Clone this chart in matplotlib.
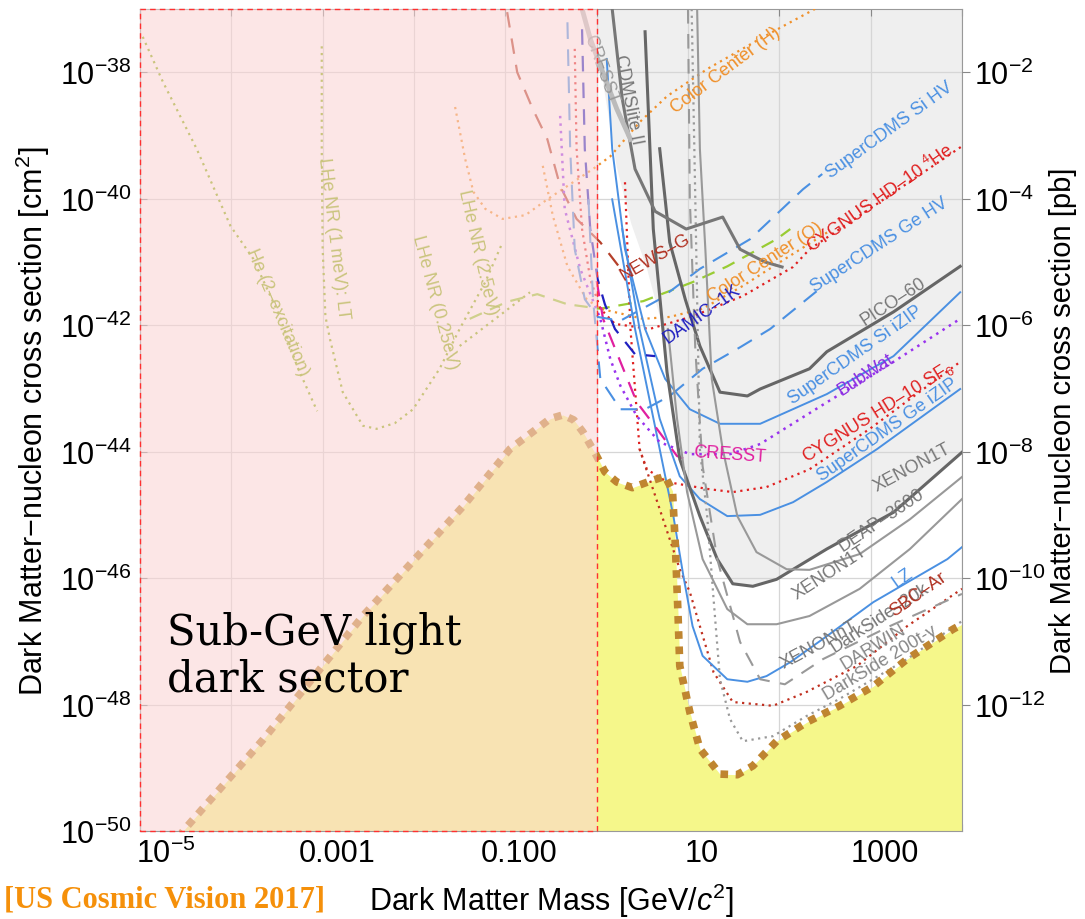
import matplotlib
matplotlib.use("Agg")
import matplotlib.pyplot as plt
import matplotlib.transforms as mtransforms
from matplotlib.ticker import FixedLocator, FixedFormatter, NullLocator
import numpy as np

plt.rcParams['font.family'] = ['Liberation Sans', 'DejaVu Sans']
plt.rcParams['mathtext.fontset'] = 'custom'
plt.rcParams['mathtext.rm'] = 'Liberation Sans'
plt.rcParams['mathtext.it'] = 'Liberation Sans:italic'

# all curves: log10(mass / GeV), log10(sigma / cm^2)
floor_m = [-4.58, -4.51, -3.65, -2.56, -1.46, -0.95, -0.51, -0.37, -0.25, -0.15, 0.0, 0.09, 0.22, 0.39,
           0.56, 0.75, 0.83, 0.86, 0.89, 0.91, 1.02, 1.13, 1.35, 1.54, 1.71, 1.97, 2.30, 2.66, 3.03, 3.40, 3.90, 4.0]
floor_s = [-50.1, -49.97, -48.55, -46.6, -44.86, -43.96, -43.48, -43.42, -43.50, -43.69, -44.07, -44.32, -44.48, -44.57,
           -44.48, -44.39, -44.62, -45.43, -46.54, -47.39, -48.12, -48.70, -49.10, -49.11, -48.97, -48.58, -48.28, -48.02, -47.71, -47.28, -46.81, -46.73]

excl_m = [0.0, 0.04, 0.12, 0.22, 0.38, 0.55, 0.66, 0.74, 0.77, 0.91, 1.13, 1.32, 1.49, 1.71, 1.97, 2.52, 3.25, 4.0, 4.0]
excl_s = [-37.0, -37.9, -38.6, -39.5, -40.4, -41.1, -41.7, -42.1, -42.74, -44.12, -45.02, -45.70, -46.09, -46.13, -46.02, -45.54, -44.96, -44.01, -37.0]

he2_m = [-4.97, -4.75, -4.38, -4.01, -3.76, -3.47, -3.28, -3.06]
he2_s = [-37.44, -38.15, -39.21, -40.43, -40.95, -41.86, -42.65, -43.36]
lhe1_m = [-3.01, -3.01, -3.00, -2.97, -2.92, -2.78, -2.56, -2.41, -2.21, -2.01, -1.72, -1.50, -1.22, -1.03]
lhe1_s = [-37.59, -39.21, -40.80, -41.86, -42.22, -43.06, -43.59, -43.64, -43.55, -43.33, -42.69, -42.06, -41.32, -40.69]
lhe25_m = [-1.50, -1.11, -0.73]
lhe25_s = [-42.33, -41.90, -41.48]
green_m = [-1.39, -0.98, -0.65, -0.32, 0.04, 0.51, 1.05, 1.43, 1.97, 2.12]
green_s = [-41.90, -41.63, -41.51, -41.67, -41.74, -41.62, -41.32, -41.07, -40.64, -40.48]
ccH_m = [-1.55, -1.44, -1.35, -1.22, -1.03, -0.78, -0.54, -0.29, -0.04, 0.15, 0.47, 0.77, 1.21, 1.79, 2.12, 2.39]
ccH_s = [-38.55, -39.37, -39.89, -40.16, -40.32, -40.26, -40.01, -39.77, -39.53, -39.33, -38.79, -38.38, -37.95, -37.47, -37.21, -37.00]
ccO_m = [-0.59, -0.48, -0.32, -0.11, 0.04, 0.51, 0.80, 1.16, 1.60, 2.01, 2.55]
ccO_s = [-39.48, -40.27, -41.07, -41.59, -41.74, -41.90, -41.87, -41.74, -41.38, -41.00, -40.51]
news_m = [-0.98, -0.87, -0.70, -0.54, -0.40, -0.22, 0.04, 0.28]
news_s = [-37.05, -38.0, -38.58, -39.06, -39.80, -40.32, -40.69, -41.14]
cyghe_m = [-0.24, -0.22, -0.16, -0.07, 0.04, 0.20, 0.58, 1.05, 1.60, 2.15, 2.33, 2.99, 4.0]
cyghe_s = [-37.63, -39.21, -40.48, -41.27, -41.74, -41.98, -42.06, -41.86, -41.54, -41.08, -40.80, -40.16, -39.17]
sf6_m = [0.31, 0.37, 0.47, 0.55, 0.77, 1.21, 1.49, 1.86, 2.33, 2.99, 3.98]
sf6_s = [-39.74, -42.06, -43.96, -44.28, -44.48, -44.59, -44.64, -44.56, -44.28, -43.64, -42.58]
sbc_m = [0.47, 0.69, 0.91, 1.02, 1.13, 1.28, 1.49, 1.93, 2.30, 2.85, 3.40, 4.0]
sbc_s = [-43.96, -44.91, -45.86, -46.22, -46.76, -47.49, -47.96, -48.02, -47.80, -47.39, -46.76, -46.17]
siizip_m = [0.11, 0.17, 0.31, 0.53, 0.75, 1.02, 1.35, 1.79, 2.52, 3.25, 3.98]
siizip_s = [-37.79, -39.21, -40.80, -42.06, -42.85, -43.33, -43.56, -43.56, -43.09, -42.49, -41.48]
geizip_m = [0.28, 0.47, 0.69, 0.91, 1.13, 1.43, 1.79, 2.15, 2.52, 3.07, 3.98]
geizip_s = [-40.48, -42.06, -43.48, -44.39, -44.75, -45.02, -45.00, -44.80, -44.48, -43.96, -43.01]
lz_m = [0.17, 0.42, 0.69, 0.84, 0.95, 1.05, 1.16, 1.43, 1.65, 1.86, 2.12, 2.48, 3.03, 3.84, 4.0]
lz_s = [-40.01, -42.06, -43.96, -45.02, -45.97, -46.76, -47.23, -47.60, -47.64, -47.55, -47.33, -46.96, -46.38, -45.70, -45.51]
bub_m = [-0.40, -0.35, -0.18, 0.04, 0.15, 0.26, 0.44, 0.69, 1.02, 1.46, 1.79, 2.52, 3.25, 3.98]
bub_s = [-38.69, -40.16, -41.11, -41.90, -42.54, -42.96, -43.44, -43.85, -44.04, -44.04, -43.88, -43.22, -42.58, -41.90]
cresst_m = [0.0, 0.07, 0.26, 0.44, 0.66, 0.88, 1.02]
cresst_s = [-41.30, -41.90, -42.58, -43.22, -43.64, -44.07, -44.15]
damic_m = [-0.16, -0.13, -0.07, 0.01, 0.09, 0.20, 0.42, 0.64]
damic_s = [-37.32, -39.21, -40.48, -41.27, -41.67, -42.06, -42.46, -42.49]
sihv_m = [-0.32, -0.29, -0.24, -0.13, 0.01, 0.26, 0.69, 1.13, 1.68, 2.26, 2.47]
sihv_s = [-37.21, -39.21, -40.80, -41.59, -41.87, -41.93, -41.59, -41.11, -40.64, -39.85, -39.61]
gehv_m = [-0.09, -0.04, 0.04, 0.26, 0.53, 0.80, 1.16, 1.57, 1.90, 2.48]
gehv_s = [-40.01, -41.59, -42.85, -43.33, -43.33, -43.12, -42.69, -42.35, -42.06, -41.38]
pico_m = [0.69, 0.75, 0.80, 0.97, 1.13, 1.35, 1.65, 1.79, 2.33, 2.52, 3.25, 3.98]
pico_s = [-39.21, -40.01, -40.69, -41.59, -42.33, -43.06, -43.12, -43.01, -42.69, -42.42, -41.79, -41.07]
xeth_m = [0.53, 0.62, 0.77, 0.91, 1.13, 1.32, 1.49, 1.71, 1.97, 2.52, 3.25, 4.0]
xeth_s = [-37.36, -40.48, -42.74, -44.12, -45.02, -45.70, -46.09, -46.13, -46.02, -45.54, -44.96, -44.01]
deap_m = [1.10, 1.13, 1.19, 1.26, 1.38, 1.54, 1.75, 2.08, 2.33, 2.88, 3.43, 4.0]
deap_s = [-37.0, -39.21, -40.80, -42.85, -43.96, -45.02, -45.59, -45.86, -45.87, -45.62, -45.07, -44.40]
xe1t_m = [0.78, 0.88, 0.99, 1.16, 1.43, 1.65, 1.97, 2.33, 2.88, 3.43, 4.0]
xe1t_s = [-42.06, -43.48, -44.64, -45.70, -46.49, -46.73, -46.73, -46.60, -46.17, -45.54, -44.75]
xent_m = [1.00, 1.02, 1.08, 1.16, 1.32, 1.57, 1.79, 2.06, 2.48, 3.21, 4.0]
xent_s = [-37.0, -40.01, -42.38, -44.23, -45.70, -47.01, -47.60, -47.68, -47.28, -46.76, -46.25]
darwin_m = [1.04, 1.08, 1.13, 1.21, 1.28, 1.35, 1.46, 1.60, 1.93, 2.30, 2.66, 3.40, 4.0]
darwin_s = [-37.0, -40.01, -43.96, -45.02, -46.33, -47.60, -48.23, -48.58, -48.50, -48.18, -47.91, -47.28, -46.68]
cdmslite_m = [0.17, 0.28, 0.42, 0.64, 0.98, 1.38, 1.57, 1.84, 2.03]
cdmslite_s = [-37.0, -38.42, -39.53, -40.20, -40.48, -40.29, -40.80, -41.00, -41.08]
cresstold_m = [-0.16, -0.07, 0.04, 0.22, 0.37]
cresstold_s = [-37.0, -37.47, -37.90, -38.58, -39.06]

# labels: text, log m, log s, angle, colour
labels = [
    ("Color Center (H)", 1.41, -37.95, 37, "#f0902a"),
    ("CDMSlite II", 0.34, -38.42, -79, "#777777"),
    ("CRESST", 0.05, -37.95, -70, "#999999"),
    ("SuperCDMS Si HV", 3.21, -38.90, 36, "#4a90e2"),
    ("CYGNUS HD–10 $^4$He", 3.10, -39.98, 35, "#e02020"),
    ("SuperCDMS Ge HV", 3.10, -40.72, 33, "#4a90e2"),
    ("NEWS–G", 0.64, -40.91, 30, "#b03020"),
    ("Color Center (O)", 1.84, -40.99, 33, "#f0902a"),
    ("DAMIC–1K", 1.15, -41.82, 35, "#2020c0"),
    ("PICO–60", 3.25, -41.62, 33, "#777777"),
    ("SuperCDMS Si iZIP", 2.83, -42.46, 35, "#4a90e2"),
    ("BubWat", 2.94, -42.77, 33, "#8a2be2"),
    ("CYGNUS HD–10 SF$_6$", 3.08, -43.36, 32, "#e02020"),
    ("SuperCDMS Ge iZIP", 3.19, -43.64, 35, "#4a90e2"),
    ("CRESST", 1.46, -44.04, -4, "#e020a0"),
    ("XENON1T", 3.45, -44.24, 28, "#777777"),
    ("DEAP–3600", 3.12, -45.07, 34, "#777777"),
    ("XENON1T", 2.55, -45.90, 33, "#777777"),
    ("LZ", 3.35, -45.98, 35, "#4a90e2"),
    ("XENONnT", 2.44, -47.04, 28, "#777777"),
    ("DarkSide–20k", 3.10, -46.62, 33, "#777777"),
    ("SBC–Ar", 3.52, -46.25, 35, "#b03020"),
    ("DARWIN", 3.03, -47.08, 31, "#888888"),
    ("DarkSide 200t-y", 3.10, -47.33, 31, "#888888"),
    ("He (2–excitation)", -3.49, -41.79, -67, "#8cb010"),
    ("LHe NR (1 meV): LT", -2.88, -40.61, -83, "#8cb010"),
    ("LHe NR (0.25eV)", -1.77, -41.62, -75, "#8cb010"),
    ("LHe NR (2.5eV)", -1.30, -40.84, -77, "#8cb010"),
]


def L(a):
    return 10.0 ** np.asarray(a)


fig = plt.figure(figsize=(10.85, 9.2), dpi=100)
ax = fig.add_axes([140 / 1085, 1 - 832 / 920, 822 / 1085, 822 / 920])
ax.set_xscale('log')
ax.set_yscale('log')
ax.set_xlim(1e-5, 1e4)
ax.set_ylim(1e-50, 1e-37)

ax.fill(L(excl_m), L(excl_s), color='#efefef', lw=0, zorder=0.2)
ax.set_axisbelow(True)
ax.grid(True, which='major', color='#d6d6d6', lw=0.9)
ax.fill_between(L(floor_m), L(floor_s), 1e-51, color='#f5f78a', lw=0, zorder=1)

olive = '#8cb010'
curves = [
    (he2_m, he2_s, olive, (0, (1, 2)), 1.6),
    (lhe1_m, lhe1_s, olive, (0, (1, 2)), 1.6),
    (lhe25_m, lhe25_s, olive, (0, (1, 2)), 1.6),
    (green_m, green_s, '#99cc33', (0, (6, 4)), 1.6),
    (ccH_m, ccH_s, '#f0902a', (0, (1, 2)), 1.6),
    (ccO_m, ccO_s, '#f0902a', (0, (1, 2)), 1.6),
    (news_m, news_s, '#b5402a', (0, (7, 5)), 1.6),
    (cyghe_m, cyghe_s, '#e02020', (0, (1, 2)), 1.6),
    (sf6_m, sf6_s, '#e02020', (0, (1, 2)), 1.6),
    (sbc_m, sbc_s, '#c03020', (0, (1, 2)), 1.6),
    (siizip_m, siizip_s, '#4a90e2', '-', 1.4),
    (geizip_m, geizip_s, '#4a90e2', '-', 1.4),
    (lz_m, lz_s, '#4a90e2', '-', 1.4),
    (bub_m, bub_s, '#9933ee', (0, (1, 2)), 1.8),
    (cresst_m, cresst_s, '#e020a0', (0, (7, 5)), 1.6),
    (damic_m, damic_s, '#2020c0', (0, (7, 5)), 1.6),
    (sihv_m, sihv_s, '#4a90e2', (0, (8, 5)), 1.5),
    (gehv_m, gehv_s, '#4a90e2', (0, (8, 5)), 1.5),
    (pico_m, pico_s, '#666666', '-', 2.2),
    (xeth_m, xeth_s, '#666666', '-', 2.2),
    (deap_m, deap_s, '#999999', '-', 1.5),
    (xe1t_m, xe1t_s, '#999999', '-', 1.5),
    (xent_m, xent_s, '#999999', (0, (7, 5)), 1.5),
    (darwin_m, darwin_s, '#999999', (0, (1, 2)), 1.6),
    (cdmslite_m, cdmslite_s, '#777777', '-', 2.2),
    (cresstold_m, cresstold_s, '#bbbbbb', '-', 3.5),
]
for m, s, c, ls, lw in curves:
    ax.plot(L(m), L(s), color=c, ls=ls, lw=lw, zorder=3)

ax.plot(L(floor_m), L(floor_s), color='#bf8530', lw=5.5, ls=(0, (1, 1)),
        dash_capstyle='butt', zorder=4)

for txt, m, s, ang, c in labels:
    ax.text(10 ** m, 10 ** s, txt, color=c, fontsize=13, rotation=ang,
            rotation_mode='anchor', ha='center', va='center', zorder=3.5)

# sub-GeV band
ax.axvspan(1e-5, 1, color='#fbd4d4', alpha=0.56, lw=0, zorder=5)
ax.plot([1e-5, 1, 1, 1e-5, 1e-5], [1e-50, 1e-50, 1e-37, 1e-37, 1e-50], color='#ff3030',
        ls=(0, (4, 3)), lw=1.0, zorder=6, clip_on=False)
ax.text(2.0e-5, 10 ** -47.22, "Sub-GeV light\ndark sector", fontsize=30, family='DejaVu Serif',
        ha='left', va='center', linespacing=1.15, zorder=10)

# axes
xt = [10.0 ** k for k in range(-5, 5)]
xl = {-5: '$10^{-5}$', -3: '0.001', -1: '0.100', 1: '10', 3: '1000'}
ax.xaxis.set_major_locator(FixedLocator(xt))
ax.xaxis.set_major_formatter(FixedFormatter([xl.get(k, '') for k in range(-5, 5)]))
ax.xaxis.set_minor_locator(NullLocator())
yt = [10.0 ** k for k in range(-50, -37, 2)]
ax.yaxis.set_major_locator(FixedLocator(yt))
ax.yaxis.set_major_formatter(FixedFormatter(['$10^{%d}$' % k for k in range(-50, -37, 2)]))
ax.yaxis.set_minor_locator(NullLocator())
ax.tick_params(axis='both', direction='in', length=5, color='#888888', labelsize=22, top=True)
ax.tick_params(axis='x', pad=5)
ax.tick_params(axis='y', pad=6)
for sp in ax.spines.values():
    sp.set_color('#999999')
off = mtransforms.ScaledTranslation(0.14, 0, fig.dpi_scale_trans)
off0 = mtransforms.ScaledTranslation(0.26, 0, fig.dpi_scale_trans)
for i, t in enumerate(ax.get_xticklabels()):
    t.set_transform(t.get_transform() + (off0 if i == 0 else off))

ax.set_xlabel('Dark Matter Mass [GeV/$c^2$]', fontsize=22, labelpad=8)
ax.set_ylabel('Dark Matter−nucleon cross section [cm$^2$]', fontsize=22, labelpad=6)

ax2 = ax.twinx()
ax2.set_yscale('log')
ax2.set_ylim(1e-14, 1e-1)
ax2.yaxis.set_major_locator(FixedLocator([10.0 ** k for k in range(-12, 0, 2)]))
ax2.yaxis.set_major_formatter(FixedFormatter(['$10^{%d}$' % k for k in range(-12, 0, 2)]))
ax2.yaxis.set_minor_locator(NullLocator())
ax2.tick_params(axis='y', direction='out', length=6, color='#888888', labelsize=22, pad=3)
ax2.set_ylabel('Dark Matter−nucleon cross section [pb]', fontsize=21, labelpad=2)
for sp in ax2.spines.values():
    sp.set_visible(False)

fig.text(0.004, 0.014, '[US Cosmic Vision 2017]', color='#f5900a', fontsize=22,
         family='Liberation Serif', weight='bold', ha='left', va='baseline')

fig.savefig('out.png', dpi=100)
